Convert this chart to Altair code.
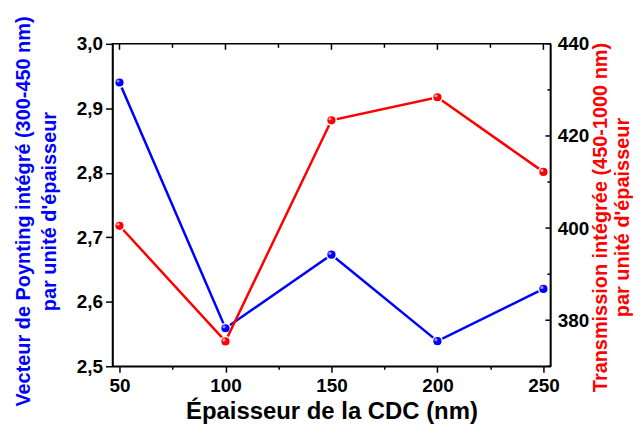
import altair as alt
import pandas as pd

thickness = [50, 100, 150, 200, 250]
poynting = [2.940, 2.559, 2.673, 2.539, 2.620]
transmission = [400.5, 375.4, 423.4, 428.4, 412.2]

x_title = "Épaisseur de la CDC (nm)"
left_title = ["Vecteur de Poynting intégré (300-450 nm)", "par unité d'épaisseur"]
right_title = ["Transmission intégrée (450-1000 nm)", "par unité d'épaisseur"]

x_ticks = [50, 75, 100, 125, 150, 175, 200, 225, 250]
x_major = [50, 100, 150, 200, 250]
x_minor = [75, 125, 175, 225]
left_ticks = [2.5, 2.55, 2.6, 2.65, 2.7, 2.75, 2.8, 2.85, 2.9, 2.95, 3.0]
right_major = [380, 400, 420, 440]
right_minor = [370, 390, 410, 430]

df = pd.DataFrame({"x": thickness, "p": poynting, "t": transmission})
df_xmaj = pd.DataFrame({"x": x_major})
df_xmin = pd.DataFrame({"x": x_minor})
df_rmaj = pd.DataFrame({"t": right_major})
df_rmin = pd.DataFrame({"t": right_minor})

FONT = "Liberation Sans"
BLUE = "#0000FF"
RED = "#FF0000"
W, H = 440, 324

x_axis = alt.Axis(
    title=x_title,
    values=x_ticks,
    labelExpr="datum.value % 50 == 0 ? datum.label : ''",
    tickSize={"condition": {"test": "datum.value % 50 == 0", "value": 6}, "value": 3},
    labelFontSize=19,
    titleFontSize=24,
    titlePadding=4,
    labelPadding=4,
    grid=False,
)
x_scale = alt.Scale(domain=[46.7, 253.3], nice=False, zero=False)

left_axis = alt.Axis(
    title=left_title,
    values=left_ticks,
    labelExpr="abs(round(datum.value*10) - datum.value*10) < 0.01 ? replace(format(datum.value, '.1f'), '.', ',') : ''",
    tickSize={"condition": {"test": "abs(round(datum.value*10) - datum.value*10) < 0.01", "value": 7}, "value": 4},
    titleColor=BLUE,
    titleFontSize=20,
    labelFontSize=19,
    titlePadding=17,
    titleLineHeight=26,
    titleY=168,
    labelPadding=3,
    grid=False,
    orient="left",
)

right_axis = alt.Axis(
    title=right_title,
    values=right_major,
    ticks=False,
    titleColor=RED,
    titleFontSize=20,
    labelFontSize=19,
    titlePadding=0,
    titleLineHeight=22,
    titleAngle=-90,
    titleY=174,
    labelPadding=7,
    grid=False,
    orient="right",
)

base = alt.Chart(df)

blue_line = base.mark_line(color=BLUE, strokeWidth=2.5).encode(
    x=alt.X("x:Q", scale=x_scale, axis=x_axis),
    y=alt.Y("p:Q", scale=alt.Scale(domain=[2.5, 3.0], nice=False, zero=False), axis=left_axis),
)
blue_pts = base.mark_circle(color=BLUE, size=95, opacity=1, stroke="white", strokeWidth=1.5).encode(
    x="x:Q", y="p:Q"
)
blue_hi = base.mark_circle(color="#9090ff", size=10, opacity=1, xOffset=-1.5, yOffset=-1.5).encode(
    x="x:Q", y="p:Q"
)

red_line = base.mark_line(color=RED, strokeWidth=2.5).encode(
    x="x:Q",
    y=alt.Y("t:Q", scale=alt.Scale(domain=[370, 440], nice=False, zero=False), axis=right_axis),
)
red_pts = base.mark_circle(color=RED, size=95, opacity=1, stroke="white", strokeWidth=1.5).encode(
    x="x:Q", y="t:Q"
)
red_hi = base.mark_circle(color="#ff9c9c", size=10, opacity=1, xOffset=-1.5, yOffset=-1.5).encode(
    x="x:Q", y="t:Q"
)

# inward ticks on the right (red scale) and top frame
r_maj = alt.Chart(df_rmaj).mark_rule(color="black", strokeWidth=1.5).encode(
    y="t:Q", x=alt.value(W), x2=alt.value(W - 5)
)
r_min = alt.Chart(df_rmin).mark_rule(color="black", strokeWidth=1.5).encode(
    y="t:Q", x=alt.value(W), x2=alt.value(W - 3)
)
t_maj = alt.Chart(df_xmaj).mark_rule(color="black", strokeWidth=1.5).encode(
    x="x:Q", y=alt.value(0), y2=alt.value(6)
)
t_min = alt.Chart(df_xmin).mark_rule(color="black", strokeWidth=1.5).encode(
    x="x:Q", y=alt.value(0), y2=alt.value(4)
)

blue = alt.layer(blue_line, blue_pts, blue_hi, t_maj, t_min)
red = alt.layer(red_line, red_pts, red_hi, r_maj, r_min)

chart = (
    alt.layer(blue, red)
    .resolve_scale(y="independent")
    .properties(width=W, height=H, padding={"left": 5, "top": 6, "right": 0, "bottom": 0})
    .configure_view(stroke="black", strokeWidth=1.5)
    .configure_axis(
        domainColor="black",
        domainWidth=1.5,
        tickColor="black",
        tickWidth=1.5,
        labelFont=FONT,
        titleFont=FONT,
        labelFontWeight="bold",
        titleFontWeight="bold",
        labelColor="black",
    )
    .configure_axisX(titleColor="black")
)

chart.save("out.html", embed_options={"renderer": "svg", "actions": False})
